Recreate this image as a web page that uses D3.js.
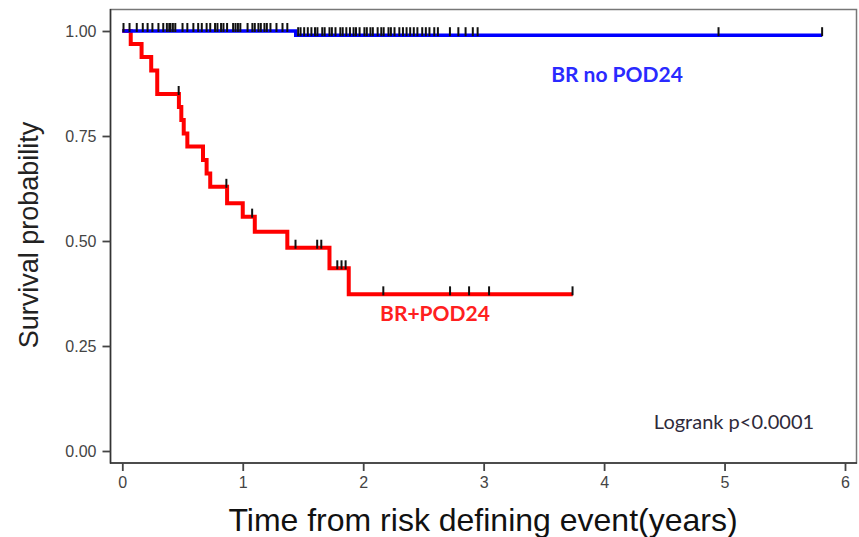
<!DOCTYPE html>
<html>
<head>
<meta charset="utf-8">
<script src="https://cdn.jsdelivr.net/npm/d3@7"></script>
<style>
  body { margin: 0; background: #fff; }
  svg { display: block; }
</style>
</head>
<body>
<div id="chart"></div>
<script>
// Kaplan-Meier curves

// BR no POD24 (blue)
var blueTimes = [0, 1.44];
var blueSurv = [1.0, 0.990];
var blueEnd = 5.81;
var blueCensor = [0.01, 0.06, 0.12, 0.17, 0.21, 0.25, 0.30, 0.34, 0.37, 0.39, 0.40, 0.42, 0.44,
  0.50, 0.54, 0.59, 0.63, 0.66, 0.70, 0.73, 0.77, 0.79, 0.82, 0.84, 0.87, 0.92, 0.94, 0.96, 0.98,
  1.04, 1.08, 1.10, 1.13, 1.15, 1.18, 1.20, 1.23, 1.28, 1.33, 1.37, 1.46, 1.48, 1.51, 1.54, 1.57,
  1.60, 1.62, 1.66, 1.68, 1.72, 1.74, 1.77, 1.81, 1.83, 1.86, 1.89, 1.92, 1.94, 1.97, 2.01, 2.03,
  2.06, 2.08, 2.12, 2.15, 2.17, 2.21, 2.23, 2.26, 2.30, 2.33, 2.36, 2.39, 2.42, 2.45, 2.49, 2.52,
  2.55, 2.59, 2.62, 2.72, 2.79, 2.85, 2.91, 2.95, 4.95, 5.81];

// BR+POD24 (red)
var redTimes = [0, 0.07, 0.16, 0.24, 0.29, 0.47, 0.49, 0.51, 0.54, 0.67, 0.70, 0.73, 0.87, 1.00, 1.10, 1.37, 1.72, 1.88];
var redSurv = [1.0, 0.969, 0.938, 0.906, 0.85, 0.819, 0.788, 0.756, 0.725, 0.693, 0.661, 0.629, 0.590, 0.558, 0.522, 0.484, 0.435, 0.373];
var redEnd = 3.74;
var redCensor = [0.468, 0.864, 1.078, 1.438, 1.618, 1.652, 1.785, 1.820, 1.854, 2.167, 2.721, 2.879, 3.045, 3.738];

var xTicks = [0, 1, 2, 3, 4, 5, 6];
var yTicks = [0, 0.25, 0.5, 0.75, 1];

var svgWidth = 859;
var svgHeight = 537;

var svg = d3.select("#chart")
  .append("svg")
  .attr("width", svgWidth)
  .attr("height", svgHeight);

var x = d3.scaleLinear().domain([0, 6]).range([122.3, 845]);
var y = d3.scaleLinear().domain([0, 1]).range([451, 31]);

// panel box
svg.append("rect")
  .attr("x", 110.5)
  .attr("y", 9.5)
  .attr("width", 746)
  .attr("height", 453.5)
  .attr("fill", "none")
  .attr("stroke", "#777")
  .attr("stroke-width", 1.5);

// left and bottom axis lines
svg.append("line")
  .attr("x1", 110.5).attr("x2", 110.5)
  .attr("y1", 9).attr("y2", 463.5)
  .attr("stroke", "#333").attr("stroke-width", 1.5);
svg.append("line")
  .attr("x1", 110).attr("x2", 857)
  .attr("y1", 463).attr("y2", 463)
  .attr("stroke", "#333").attr("stroke-width", 1.5);

// y axis
var yAxis = svg.append("g")
  .attr("transform", "translate(110.5,0)")
  .call(d3.axisLeft(y).tickValues(yTicks).tickFormat(d3.format(".2f")).tickSize(8).tickPadding(6));

// x axis
var xAxis = svg.append("g")
  .attr("transform", "translate(0,463)")
  .call(d3.axisBottom(x).tickValues(xTicks).tickFormat(d3.format("d")).tickSize(8).tickPadding(6));

[yAxis, xAxis].forEach(function(g) {
  g.select(".domain").remove();
  g.selectAll(".tick line").attr("stroke", "#444").attr("stroke-width", 1.8);
  g.selectAll(".tick text")
    .attr("fill", "#444")
    .style("font-family", "Liberation Sans, Arial, sans-serif")
    .style("font-size", "16px");
});

// curves
function stepPoints(times, surv, end) {
  var pts = times.map(function(t, i) { return [t, surv[i]]; });
  pts.push([end, surv[surv.length - 1]]);
  return pts;
}

function survAt(times, surv, t) {
  var i = d3.bisectRight(times, t) - 1;
  return surv[Math.max(i, 0)];
}

var line = d3.line()
  .x(function(d) { return x(d[0]); })
  .y(function(d) { return y(d[1]); })
  .curve(d3.curveStepAfter);

svg.append("path")
  .datum(stepPoints(redTimes, redSurv, redEnd))
  .attr("d", line)
  .attr("fill", "none")
  .attr("stroke", "#ff0000")
  .attr("stroke-width", 4);

svg.append("path")
  .datum(stepPoints(blueTimes, blueSurv, blueEnd))
  .attr("d", line)
  .attr("fill", "none")
  .attr("stroke", "#0000ff")
  .attr("stroke-width", 3.5);

// censor marks
function drawCensor(times, surv, marks) {
  svg.append("g").selectAll("line")
    .data(marks)
    .enter()
    .append("line")
    .attr("x1", function(d) { return x(d); })
    .attr("x2", function(d) { return x(d); })
    .attr("y1", function(d) { return y(survAt(times, surv, d)) - 8; })
    .attr("y2", function(d) { return y(survAt(times, surv, d)) + 1; })
    .attr("stroke", "#111")
    .attr("stroke-width", 2);
}
drawCensor(redTimes, redSurv, redCensor);
drawCensor(blueTimes, blueSurv, blueCensor);

// axis titles
svg.append("text")
  .attr("transform", "translate(38,235) rotate(-90)")
  .attr("text-anchor", "middle")
  .attr("fill", "#222")
  .style("font-family", "Liberation Sans, Arial, sans-serif")
  .style("font-size", "27px")
  .text("Survival probability");

svg.append("text")
  .attr("x", 483)
  .attr("y", 531)
  .attr("text-anchor", "middle")
  .attr("fill", "#111")
  .style("font-family", "Liberation Sans, Arial, sans-serif")
  .style("font-size", "32px")
  .text("Time from risk defining event(years)");

// annotations
svg.append("text")
  .attr("x", 617)
  .attr("y", 82)
  .attr("text-anchor", "middle")
  .attr("fill", "#2a2aff")
  .style("font-family", "Lato, sans-serif")
  .style("font-weight", "bold")
  .style("font-size", "21px")
  .text("BR no POD24");

svg.append("text")
  .attr("x", 435)
  .attr("y", 321)
  .attr("text-anchor", "middle")
  .attr("fill", "#ff2020")
  .style("font-family", "Lato, sans-serif")
  .style("font-weight", "bold")
  .style("font-size", "21px")
  .text("BR+POD24");

svg.append("text")
  .attr("x", 734)
  .attr("y", 429)
  .attr("text-anchor", "middle")
  .attr("fill", "#2f2a3a")
  .style("font-family", "Lato, sans-serif")
  .style("font-size", "20px")
  .text("Logrank p<0.0001");
</script>
</body>
</html>
